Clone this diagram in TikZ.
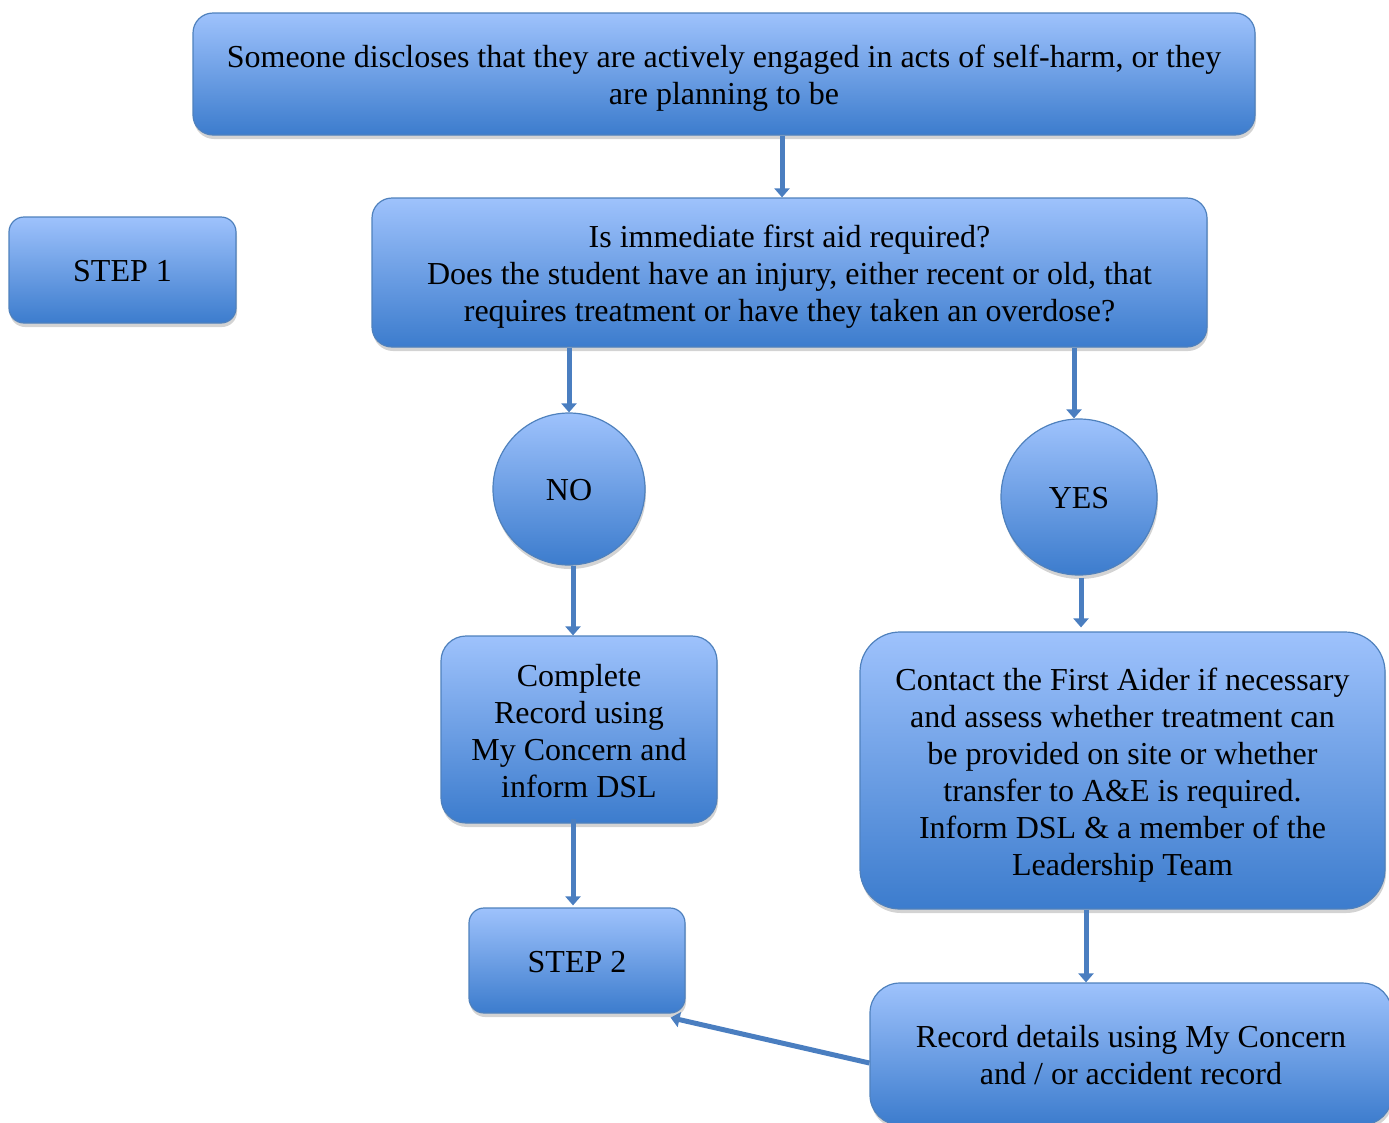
\documentclass[tikz,border=0pt]{standalone}
\usepackage{fontspec}
\setmainfont{Liberation Serif}
\usetikzlibrary{shadows,arrows.meta}
\definecolor{boxtop}{RGB}{158,194,252}
\definecolor{boxbot}{RGB}{60,124,205}
\definecolor{boxline}{RGB}{79,129,189}
\definecolor{arrcol}{RGB}{74,126,192}
\newcommand\linestrut{\rule[-7pt]{0pt}{37pt}}
\newcommand\fs{\rule{0pt}{31pt}}
\tikzset{
  flowbox/.style={draw=boxline, line width=1.2pt, top color=boxtop, bottom color=boxbot,
    align=center, inner sep=0pt, font=\fontsize{32}{37}\selectfont,
    execute at begin node=\linestrut, execute at end node=\linestrut,
    drop shadow={opacity=0.35, shadow xshift=1pt, shadow yshift=-4pt}},
  flowcirc/.style={flowbox, circle},
  arr/.style={draw=arrcol, line width=5pt, -{Triangle[length=9pt,width=15pt]}}
}
\begin{document}
\begin{tikzpicture}[x=1pt,y=-1pt]
\useasboundingbox (0,0) rectangle (1389,1122);
\clip (0,0) rectangle (1389,1122);
\node[flowbox, rounded corners=20pt, minimum width=1062pt, minimum height=122pt] (top) at (724,74)
  {\fs Someone discloses that they are actively engaged in acts of self-harm, or they\\are planning to be};
\node[flowbox, rounded corners=15pt, minimum width=227pt, minimum height=106pt] (s1) at (122.5,270) {STEP 1};
\node[flowbox, rounded corners=20pt, minimum width=835pt, minimum height=149pt] (q) at (789.5,272.5)
  {\fs Is immediate first aid required?\\Does the student have an injury, either recent or old, that\\requires treatment or have they taken an overdose?};
\node[flowcirc, minimum size=152pt] (no) at (569,489) {NO};
\node[flowcirc, minimum size=156pt] (yes) at (1079,497) {YES};
\node[flowbox, rounded corners=25pt, minimum width=276pt, minimum height=187pt] (comp) at (579,729.5)
  {\fs Complete\\Record using\\My Concern and\\inform DSL};
\node[flowbox, rounded corners=40pt, minimum width=525pt, minimum height=277pt] (cont) at (1122.5,770.5)
  {\fs Contact the First Aider if necessary\\and assess whether treatment can\\be provided on site or whether\\transfer to A\&E is required.\\Inform DSL \& a member of the\\Leadership Team};
\node[flowbox, rounded corners=15pt, minimum width=216pt, minimum height=105pt] (s2) at (577,960.5) {STEP 2};
\node[flowbox, rounded corners=30pt, minimum width=522pt, minimum height=142pt] (rec) at (1131,1054)
  {\fs Record details using My Concern\\and / or accident record};
\draw[arr] ([xshift=58pt]top.south) -- ([xshift=58pt]top.south |- q.north);
\draw[arr] (no.north |- q.south) -- (no.north);
\draw[arr] ([xshift=-5pt]yes.north |- q.south) -- ([xshift=-5pt]yes.north);
\draw[arr] ([xshift=4pt]no.south) -- ([xshift=4pt]no.south |- comp.north);
\draw[arr] ([xshift=2pt,yshift=-2pt]yes.south) -- ([xshift=2pt,yshift=4pt]yes.south |- cont.north);
\draw[arr] ([xshift=-6pt,yshift=5pt]comp.south) -- ([xshift=-4pt,yshift=2pt]s2.north);
\draw[arr] ([xshift=-36.5pt]cont.south) -- ([xshift=-36.5pt]cont.south |- rec.north);
\draw[arr] ([yshift=-9pt]rec.west) -- ([xshift=-15pt,yshift=-4pt]s2.south east);
\end{tikzpicture}
\end{document}
